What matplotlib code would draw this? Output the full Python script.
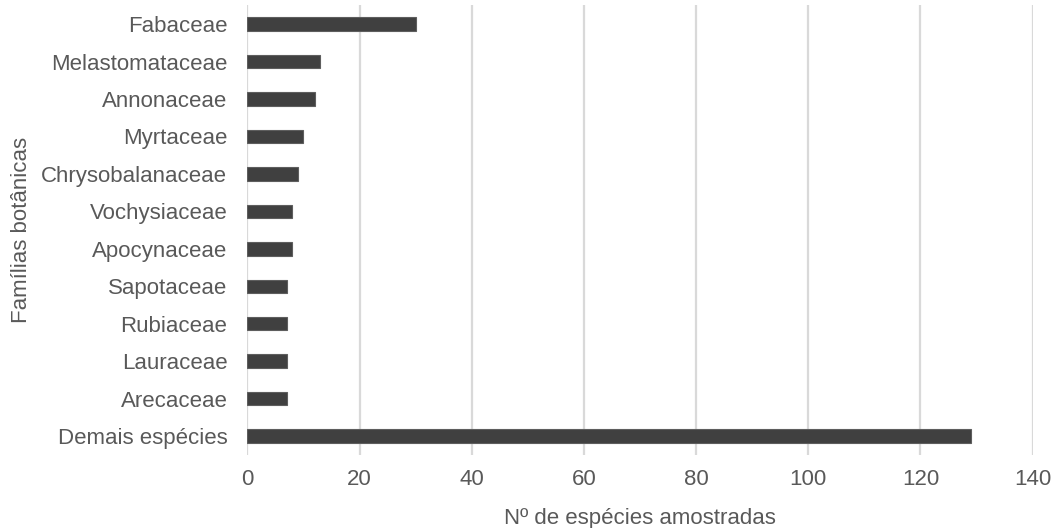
import matplotlib
matplotlib.use("Agg")
import matplotlib.pyplot as plt

families = ["Fabaceae", "Melastomataceae", "Annonaceae", "Myrtaceae",
            "Chrysobalanaceae", "Vochysiaceae", "Apocynaceae", "Sapotaceae",
            "Rubiaceae", "Lauraceae", "Arecaceae", "Demais espécies"]
species_count = [30, 13, 12, 10, 9, 8, 8, 7, 7, 7, 7, 129]
x_ticks = [0, 20, 40, 60, 80, 100, 120, 140]

plt.rcParams["font.family"] = ["Liberation Sans", "DejaVu Sans"]
text_color = "#595959"
grid_color = "#d9d9d9"

fig = plt.figure(figsize=(10.57, 5.28), dpi=100)
ax = fig.add_axes([0.234, 0.1387, 0.743, 0.851])

ypos = list(range(len(families)))
ax.barh(ypos, species_count, height=0.36, color="#404040",
        edgecolor="#5e5e5e", linewidth=0.8, zorder=3)

ax.set_ylim(len(families) - 0.5, -0.5)
ax.set_xlim(0, 140)
ax.set_yticks(ypos)
ax.set_yticklabels(families, fontsize=16, color=text_color)
ax.set_xticks(x_ticks)
ax.set_xticklabels([str(t) for t in x_ticks], fontsize=16, color=text_color)

ax.grid(axis="x", color=grid_color, linewidth=1.6, zorder=0)
for side in ["top", "right", "bottom", "left"]:
    ax.spines[side].set_visible(False)
ax.tick_params(axis="y", length=0, pad=14.4)
ax.tick_params(axis="x", length=0, pad=10.5)

ax.set_xlabel("Nº de espécies amostradas", fontsize=16, color=text_color, labelpad=13)
ax.set_ylabel("Famílias botânicas", fontsize=16, color=text_color, labelpad=7)

fig.savefig("out.png", dpi=100)
